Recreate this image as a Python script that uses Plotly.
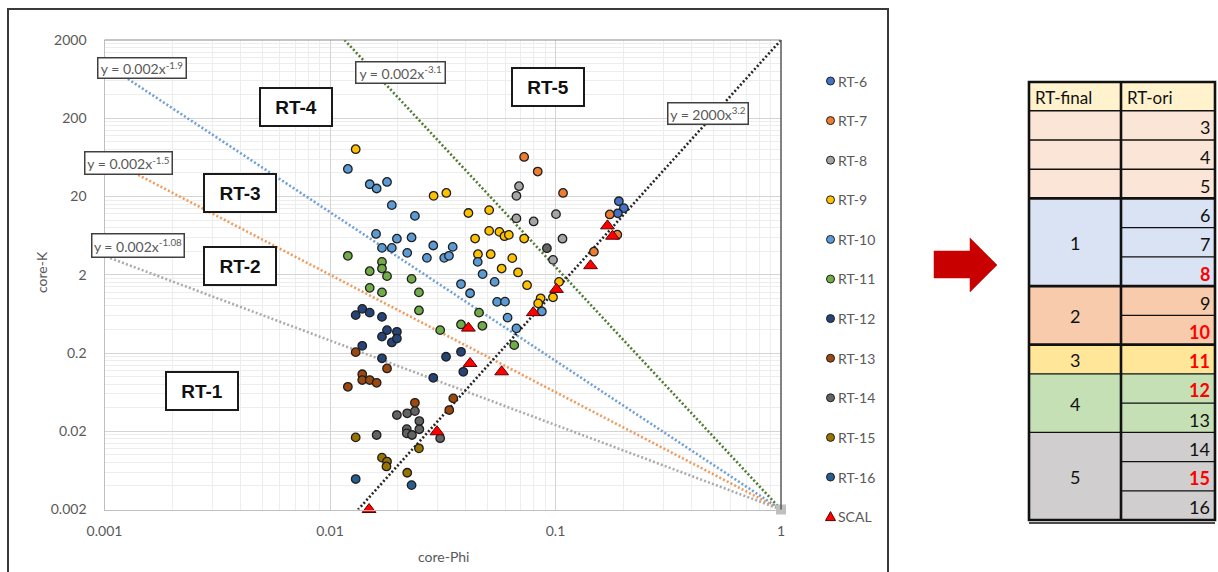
import plotly.graph_objects as go
import math

# ---------------- data ----------------
rt6_phi = [0.191, 0.201, 0.189]
rt6_k = [17.4, 14.2, 12.2]

rt7_phi = [0.0726, 0.0834, 0.108, 0.174, 0.188, 0.148]
rt7_k = [64.1, 41.7, 22.2, 11.8, 6.5, 3.94]

rt8_phi = [0.0689, 0.0671, 0.0671, 0.080, 0.1005, 0.1074, 0.0975]
rt8_k = [27.1, 20.4, 10.5, 9.6, 11.9, 5.78, 3.10]

rt9_phi = [0.0130, 0.0288, 0.0328, 0.0411, 0.0508, 0.0508, 0.0564, 0.0594, 0.0621, 0.0440, 0.0726,
           0.0453, 0.0516, 0.0643, 0.0577, 0.0682, 0.0748, 0.1037, 0.0859, 0.0838, 0.0975]
rt9_k = [80.4, 20.4, 22.2, 12.3, 13.4, 7.28, 7.06, 6.22, 6.47, 5.8, 5.8,
         3.66, 3.66, 3.26, 2.40, 2.14, 1.47, 1.62, 1.0, 0.861, 1.03]

rt10_phi = [0.0120, 0.0150, 0.0161, 0.0179, 0.0188, 0.0238, 0.0160, 0.0198, 0.0230, 0.0170, 0.0188,
            0.0220, 0.0287, 0.0350, 0.0269, 0.0321, 0.0337, 0.0452, 0.0475, 0.0537, 0.0381, 0.0418,
            0.0551, 0.0597, 0.0613, 0.0671, 0.0870]
rt10_k = [45.0, 28.7, 25.3, 30.7, 15.5, 11.3, 6.65, 5.78, 5.99, 4.41, 4.41,
          3.81, 4.73, 4.54, 3.29, 3.29, 3.49, 2.92, 2.04, 1.62, 1.52, 1.16,
          0.90, 0.906, 0.567, 0.413, 0.679]

rt11_phi = [0.0120, 0.0170, 0.0170, 0.0150, 0.0179, 0.0230, 0.0150, 0.0170, 0.0248, 0.0248,
            0.0308, 0.0381, 0.0474, 0.0458, 0.0656]
rt11_k = [3.49, 2.92, 2.40, 2.22, 1.92, 1.77, 1.36, 1.19, 1.19, 0.70,
          0.392, 0.463, 0.445, 0.656, 0.252]

rt12_phi = [0.0130, 0.0139, 0.0150, 0.0170, 0.0179, 0.0198, 0.0170, 0.0188, 0.0198, 0.0139,
            0.0170, 0.0327, 0.0381, 0.0390, 0.0287]
rt12_k = [0.61, 0.733, 0.656, 0.579, 0.392, 0.373, 0.324, 0.273, 0.306, 0.247,
          0.171, 0.179, 0.207, 0.115, 0.0964]

rt13_phi = [0.0130, 0.0179, 0.0139, 0.0139, 0.0150, 0.0161, 0.0120, 0.0238, 0.0352, 0.0338]
rt13_k = [0.205, 0.127, 0.107, 0.0902, 0.0902, 0.0832, 0.074, 0.0462, 0.0526, 0.0373]

rt14_phi = [0.0198, 0.0220, 0.0238, 0.0249, 0.0219, 0.0219, 0.0231, 0.0249, 0.0161, 0.0308, 0.0916]
rt14_k = [0.0322, 0.0339, 0.0362, 0.0270, 0.0213, 0.0188, 0.0179, 0.0212, 0.0179, 0.0163, 4.37]

rt15_phi = [0.0130, 0.0170, 0.0179, 0.0178, 0.0248, 0.0220]
rt15_k = [0.0167, 0.0092, 0.0082, 0.0071, 0.0121, 0.0059]

rt16_phi = [0.0130, 0.0230]
rt16_k = [0.0049, 0.0041]

scal_phi = [0.0149, 0.0298, 0.0411, 0.0418, 0.0577, 0.0797, 0.101, 0.143, 0.170, 0.179]
scal_k = [0.002, 0.0197, 0.416, 0.147, 0.115, 0.656, 1.30, 2.61, 8.43, 6.22]

series_names = ["RT-6", "RT-7", "RT-8", "RT-9", "RT-10", "RT-11", "RT-12", "RT-13", "RT-14", "RT-15", "RT-16"]
series_phi = [rt6_phi, rt7_phi, rt8_phi, rt9_phi, rt10_phi, rt11_phi, rt12_phi, rt13_phi, rt14_phi, rt15_phi, rt16_phi]
series_k = [rt6_k, rt7_k, rt8_k, rt9_k, rt10_k, rt11_k, rt12_k, rt13_k, rt14_k, rt15_k, rt16_k]

# boundary trendlines y = a * x^b
trend_a = [0.002, 0.002, 0.002, 0.002, 2000]
trend_b = [-1.9, -1.5, -1.08, -3.1, 3.2]
trend_x_start = [0.00127, 0.00141, 0.00106, 0.0116, 0.0133]
trend_x_end = [1, 1, 1, 1, 1]
trend_labels = ["y = 0.002x<sup>-1.9</sup>", "y = 0.002x<sup>-1.5</sup>", "y = 0.002x<sup>-1.08</sup>",
                "y = 0.002x<sup>-3.1</sup>", "y = 2000x<sup>3.2</sup>"]

region_labels = ["RT-1", "RT-2", "RT-3", "RT-4", "RT-5"]

x_tick_vals = [0.001, 0.01, 0.1, 1]
x_tick_text = ["0.001", "0.01", "0.1", "1"]
y_tick_vals = [0.002, 0.02, 0.2, 2, 20, 200, 2000]
y_tick_text = ["0.002", "0.02", "0.2", "2", "20", "200", "2000"]

# mapping table
table_header = ["RT-final", "RT-ori"]
rt_final_labels = ["", "", "", "1", "2", "3", "4", "5"]
rt_final_span = [1, 1, 1, 3, 2, 1, 2, 3]
rt_ori_values = [3, 4, 5, 6, 7, 8, 9, 10, 11, 12, 13, 14, 15, 16]
rt_ori_highlight = [8, 10, 11, 12, 15]

# ---------------- styles ----------------
W, H = 1218, 572
def PX(x):
    return x / W
def PY(y):
    return 1 - y / H

series_colors = ["#4472C4", "#ED7D31", "#A5A5A5", "#FFC000", "#5B9BD5", "#70AD47",
                 "#264478", "#9E480E", "#636363", "#997300", "#255E91"]
trend_colors = ["#6E9FD6", "#F09A5C", "#ABABAB", "#4E7A30", "#262626"]
group_fill = ["#FBE5D6", "#FBE5D6", "#FBE5D6", "#DAE3F3", "#F8CBAD", "#FFE699", "#C5E0B4", "#D0CECE"]

CAL = "Lato, Calibri, sans-serif"
ARIAL = "Liberation Sans, Arial, sans-serif"
GRAY_TXT = "#595959"

fig = go.Figure()

# trendlines
for a, b, x0, x1, c in zip(trend_a, trend_b, trend_x_start, trend_x_end, trend_colors):
    xs = [x0, x1]
    ys = [a * v ** b for v in xs]
    fig.add_trace(go.Scatter(x=xs, y=ys, mode="lines", showlegend=False, hoverinfo="skip",
                             line=dict(color=c, width=2.6, dash="2px,2.2px")))

# common end point of the trendlines
fig.add_trace(go.Scatter(x=[1], y=[0.002], mode="markers", showlegend=False, hoverinfo="skip",
                         cliponaxis=False,
                         marker=dict(symbol="square", size=10, color="#BFBFBF")))

# scatter series
for name, xs, ys, c in zip(series_names, series_phi, series_k, series_colors):
    fig.add_trace(go.Scatter(x=xs, y=ys, mode="markers", name=name, showlegend=False,
                             cliponaxis=False,
                             marker=dict(size=8.5, color=c, line=dict(color="#1E1E1E", width=1.3))))

fig.add_trace(go.Scatter(x=scal_phi, y=scal_k, mode="markers", name="SCAL", showlegend=False,
                         cliponaxis=False,
                         marker=dict(symbol="triangle-up", size=12, color="#FF0000",
                                     line=dict(color="#5A0000", width=1))))

shapes = []
annotations = []

# plot area border (top and right darker)
shapes.append(dict(type="line", xref="paper", yref="paper", x0=PX(104.5), x1=PX(781), y0=PY(40), y1=PY(40),
                   line=dict(color="#8C8C8C", width=1.2)))
shapes.append(dict(type="line", xref="paper", yref="paper", x0=PX(781), x1=PX(781), y0=PY(40), y1=PY(509.5),
                   line=dict(color="#595959", width=1.5)))

# chart outer frame
shapes.append(dict(type="rect", xref="paper", yref="paper", x0=PX(8), x1=PX(888), y0=PY(9), y1=PY(590),
                   line=dict(color="#3A3A3A", width=2), layer="above"))

# equation boxes
eq_boxes = [(141.5, 68, 90, 22), (128, 162.5, 89, 24), (137.5, 246, 94, 25), (400, 72.7, 91, 23), (707.5, 114, 82, 23)]
for txt, (cx, cy, bw, bh) in zip(trend_labels, eq_boxes):
    annotations.append(dict(xref="paper", yref="paper", x=PX(cx), y=PY(cy), text=txt, showarrow=False,
                            xanchor="center", yanchor="middle", width=bw - 3, height=bh - 3,
                            font=dict(family=CAL, size=14, color=GRAY_TXT),
                            bgcolor="white", bordercolor="#404040", borderwidth=1.5, borderpad=0))

# region boxes
rt_boxes = [(201.5, 390.5), (239.5, 266.5), (239.5, 193), (296, 107), (548, 87.5)]
for txt, (cx, cy) in zip(region_labels, rt_boxes):
    annotations.append(dict(xref="paper", yref="paper", x=PX(cx), y=PY(cy), text="<b>%s</b>" % txt,
                            showarrow=False, xanchor="center", yanchor="middle", width=70, height=36,
                            font=dict(family=ARIAL, size=19, color="#111111"),
                            bgcolor="white", bordercolor="#1A1A1A", borderwidth=2, borderpad=0))

# axis titles
annotations.append(dict(xref="paper", yref="paper", x=PX(443), y=PY(556), text="core-Phi", showarrow=False,
                        xanchor="center", yanchor="middle", font=dict(family=CAL, size=14, color=GRAY_TXT)))
annotations.append(dict(xref="paper", yref="paper", x=PX(41), y=PY(272), text="core-K", showarrow=False,
                        textangle=-90, xanchor="center", yanchor="middle",
                        font=dict(family=CAL, size=14, color=GRAY_TXT)))

# legend (drawn manually to match the compact marker/text spacing)
leg_names = series_names + ["SCAL"]
leg_colors = series_colors + ["#FF0000"]
for i, (nm, c) in enumerate(zip(leg_names, leg_colors)):
    yc = 81 + i * 39.6
    if nm == "SCAL":
        shapes.append(dict(type="path", xref="paper", yref="paper", xsizemode="pixel", ysizemode="pixel",
                           xanchor=PX(830.5), yanchor=PY(yc), path="M -5,-4 L 5,-4 L 0,5 Z",
                           fillcolor=c, line=dict(color="#5A0000", width=1)))
    else:
        shapes.append(dict(type="circle", xref="paper", yref="paper", xsizemode="pixel", ysizemode="pixel",
                           xanchor=PX(830.5), yanchor=PY(yc), x0=-4, x1=4, y0=-4, y1=4,
                           fillcolor=c, line=dict(color="#1E1E1E", width=1)))
    annotations.append(dict(xref="paper", yref="paper", x=PX(836), y=PY(yc), text=nm, showarrow=False,
                            xanchor="left", yanchor="middle", font=dict(family=CAL, size=14, color=GRAY_TXT)))

# red arrow
arrow_pts = [(934, 251), (970, 251), (970, 238), (997, 265), (970, 292), (970, 278), (934, 278)]
path = "M " + " L ".join("%.5f,%.5f" % (PX(x), PY(y)) for x, y in arrow_pts) + " Z"
shapes.append(dict(type="path", xref="paper", yref="paper", path=path, fillcolor="#C80000",
                   line=dict(color="#C80000", width=0.5)))

# ---------------- mapping table ----------------
tl, tm, tr = 1029, 1121, 1215
tt, hb = 82, 110.7
rh = 29.24
shapes.append(dict(type="rect", xref="paper", yref="paper", x0=PX(tl), x1=PX(tr), y0=PY(tt), y1=PY(hb),
                   fillcolor="#FFF2CC", line=dict(width=0), layer="below"))
annotations.append(dict(xref="paper", yref="paper", x=PX(tl + 4), y=PY((tt + hb) / 2 + 1), text=table_header[0],
                        showarrow=False, xanchor="left", yanchor="middle",
                        font=dict(family=CAL, size=17, color="#111111")))
annotations.append(dict(xref="paper", yref="paper", x=PX(tm + 4), y=PY((tt + hb) / 2 + 1), text=table_header[1],
                        showarrow=False, xanchor="left", yanchor="middle",
                        font=dict(family=CAL, size=17, color="#111111")))

row = 0
thick_after = {2, 3, 4}
for gi, (lab, span, col) in enumerate(zip(rt_final_labels, rt_final_span, group_fill)):
    y0 = hb + row * rh
    y1 = hb + (row + span) * rh
    shapes.append(dict(type="rect", xref="paper", yref="paper", x0=PX(tl), x1=PX(tr), y0=PY(y0), y1=PY(y1),
                       fillcolor=col, line=dict(width=0), layer="below"))
    if lab:
        annotations.append(dict(xref="paper", yref="paper", x=PX((tl + tm) / 2), y=PY((y0 + y1) / 2 + 1),
                                text=lab, showarrow=False, xanchor="center", yanchor="middle",
                                font=dict(family=CAL, size=18, color="#111111")))
    for r in range(span):
        v = rt_ori_values[row + r]
        ry = hb + (row + r + 0.5) * rh
        red = v in rt_ori_highlight
        annotations.append(dict(xref="paper", yref="paper", x=PX(tr - 3), y=PY(ry + 2),
                                text=("<b>%d</b>" % v) if red else str(v), showarrow=False,
                                xanchor="right", yanchor="middle",
                                font=dict(family=CAL, size=18, color="#FF0000" if red else "#111111")))
        if r < span - 1:
            yy = hb + (row + r + 1) * rh
            shapes.append(dict(type="line", xref="paper", yref="paper", x0=PX(tm), x1=PX(tr),
                               y0=PY(yy), y1=PY(yy), line=dict(color="#111111", width=1.3)))
    row += span
    if row < len(rt_ori_values):
        yy = hb + row * rh
        shapes.append(dict(type="line", xref="paper", yref="paper", x0=PX(tl), x1=PX(tr),
                           y0=PY(yy), y1=PY(yy),
                           line=dict(color="#111111", width=2.6 if gi in thick_after else 1.4)))

# header bottom, column divider, outer border
shapes.append(dict(type="line", xref="paper", yref="paper", x0=PX(tl), x1=PX(tr), y0=PY(hb), y1=PY(hb),
                   line=dict(color="#111111", width=1.4)))
tb = hb + len(rt_ori_values) * rh
shapes.append(dict(type="line", xref="paper", yref="paper", x0=PX(tm), x1=PX(tm), y0=PY(tt), y1=PY(tb),
                   line=dict(color="#111111", width=2.6)))
shapes.append(dict(type="rect", xref="paper", yref="paper", x0=PX(tl), x1=PX(tr), y0=PY(tt), y1=PY(tb),
                   line=dict(color="#111111", width=2.6)))
shapes.append(dict(type="line", xref="paper", yref="paper", x0=PX(tl), x1=PX(tr), y0=PY(tb + 3), y1=PY(tb + 3),
                   line=dict(color="#111111", width=1.5)))

# ---------------- axes ----------------
x_minor = [m * 10 ** e for e in (-3, -2, -1) for m in range(2, 10)]
y_minor = [0.002 * m * 10 ** e for e in range(6) for m in range(2, 10)]

fig.update_layout(
    width=W, height=H,
    margin=dict(l=0, r=0, t=0, b=0, autoexpand=False),
    paper_bgcolor="white", plot_bgcolor="white",
    showlegend=False,
    shapes=shapes, annotations=annotations,
    xaxis=dict(type="log", range=[-3, 0], domain=[PX(104.5), PX(781)], automargin=False,
               tickmode="array", tickvals=x_tick_vals, ticktext=x_tick_text,
               tickfont=dict(family=CAL, size=14, color=GRAY_TXT), ticks="", ticklabelstandoff=9,
               showline=True, linecolor="#BFBFBF", linewidth=1.3,
               showgrid=True, gridcolor="#D4D4D4", gridwidth=1.2, zeroline=False,
               minor=dict(tickmode="array", tickvals=x_minor, showgrid=True, gridcolor="#EDEDED", gridwidth=1)),
    yaxis=dict(type="log", range=[math.log10(0.002), math.log10(2000)], domain=[PY(509.5), PY(40)],
               automargin=False,
               tickmode="array", tickvals=y_tick_vals, ticktext=y_tick_text,
               tickfont=dict(family=CAL, size=14, color=GRAY_TXT), ticks="", ticklabelstandoff=14,
               showline=True, linecolor="#BFBFBF", linewidth=1.3,
               showgrid=True, gridcolor="#D4D4D4", gridwidth=1.2, zeroline=False,
               minor=dict(tickmode="array", tickvals=y_minor, showgrid=True, gridcolor="#EDEDED", gridwidth=1)),
)

fig.write_html("out.html")
